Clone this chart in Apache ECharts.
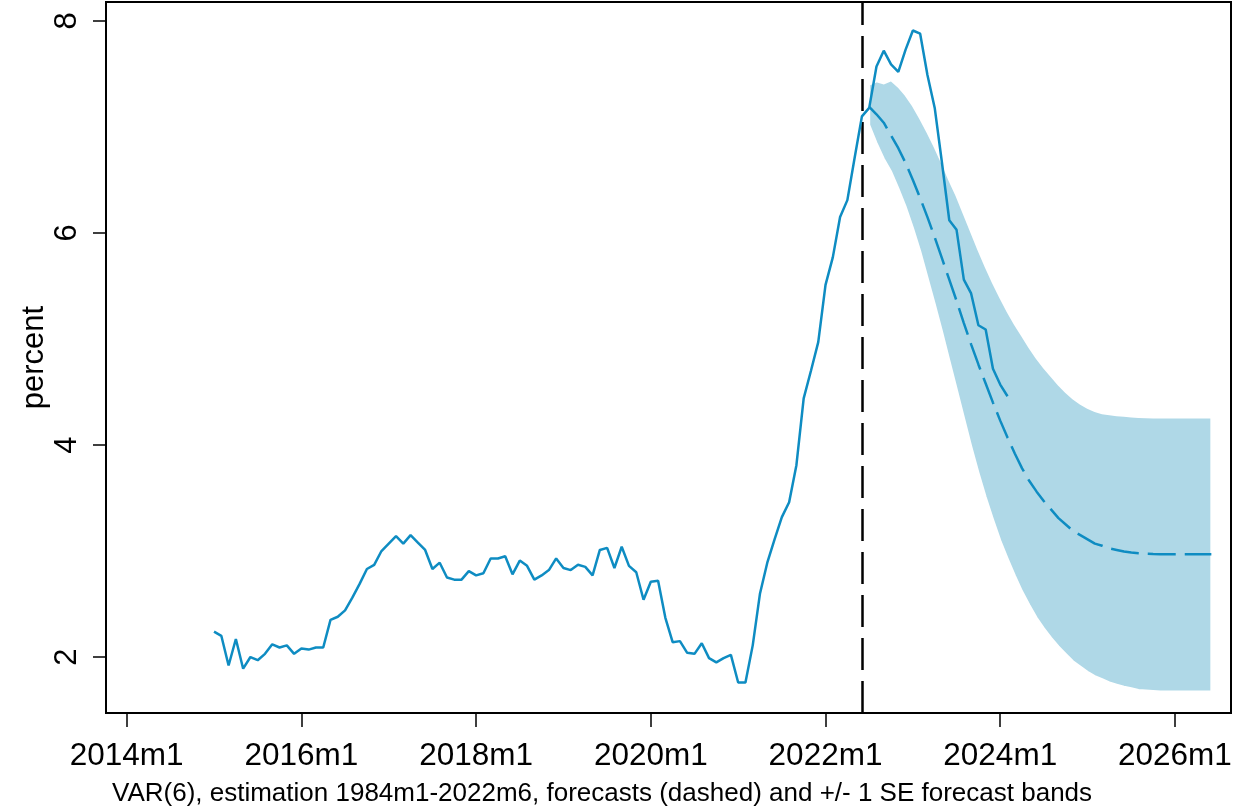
<!DOCTYPE html>
<html>
<head>
<meta charset="utf-8">
<script src="https://cdn.jsdelivr.net/npm/echarts@6/dist/echarts.min.js"></script>
<style>
html,body{margin:0;padding:0;background:#fff;}
#chart{width:1239px;height:806px;}
</style>
</head>
<body>
<div id="chart"></div>
<script>
// Month index: 0 = 2014m1
const xTickValues = [0, 24, 48, 72, 96, 120, 144];
const xTickLabels = ['2014m1', '2016m1', '2018m1', '2020m1', '2022m1', '2024m1', '2026m1'];
const yTickValues = [2, 4, 6, 8];
const yTickLabels = ['2', '4', '6', '8'];

const actualStart = 12;   // 2015m1
const actualValues = [
  2.24, 2.20, 1.92, 2.17, 1.89, 2.00, 1.97, 2.03, 2.12, 2.09, 2.11, 2.03,
  2.08, 2.07, 2.09, 2.09, 2.35, 2.38, 2.44, 2.56, 2.69, 2.83, 2.87, 3.00,
  3.07, 3.14, 3.07, 3.15, 3.08, 3.01, 2.83, 2.89, 2.75, 2.73, 2.73, 2.81,
  2.77, 2.79, 2.93, 2.93, 2.95, 2.78, 2.91, 2.86, 2.73, 2.77, 2.82, 2.93,
  2.84, 2.82, 2.87, 2.85, 2.77, 3.01, 3.03, 2.84, 3.04, 2.86, 2.80, 2.54,
  2.71, 2.72, 2.37, 2.14, 2.15, 2.04, 2.03, 2.13, 1.99, 1.95, 1.99, 2.02,
  1.76, 1.76, 2.11, 2.60, 2.89, 3.11, 3.32, 3.46, 3.81, 4.44, 4.70, 4.97,
  5.51, 5.77, 6.15, 6.31, 6.71, 7.10, 7.18, 7.57, 7.72, 7.59, 7.52, 7.73,
  7.91, 7.88, 7.49, 7.18, 6.66, 6.12, 6.03, 5.56, 5.43, 5.13, 5.09, 4.72,
  4.57, 4.46
];

const forecastStart = 102; // 2022m7
const forecastMean = [
  7.19, 7.12, 7.04, 6.92, 6.80, 6.66, 6.50, 6.33, 6.15, 5.96, 5.76, 5.56,
  5.36, 5.15, 4.95, 4.76, 4.58, 4.40, 4.23, 4.07, 3.92, 3.78, 3.66, 3.56,
  3.47, 3.39, 3.31, 3.25, 3.19, 3.15, 3.11, 3.07, 3.05, 3.025, 3.01, 2.995,
  2.985, 2.98, 2.975, 2.972, 2.97, 2.97, 2.97, 2.97, 2.97, 2.97, 2.97, 2.97
];
const forecastUpper = [
  7.40, 7.43, 7.41, 7.44, 7.38, 7.30, 7.20, 7.08, 6.95, 6.81, 6.66, 6.50,
  6.35, 6.18, 6.01, 5.84, 5.68, 5.53, 5.39, 5.26, 5.14, 5.03, 4.92, 4.82,
  4.73, 4.65, 4.57, 4.50, 4.44, 4.39, 4.35, 4.32, 4.30, 4.29, 4.28, 4.275,
  4.27, 4.265, 4.262, 4.26, 4.26, 4.26, 4.26, 4.26, 4.26, 4.26, 4.26, 4.26
];
const forecastLower = [
  7.02, 6.85, 6.70, 6.58, 6.42, 6.25, 6.05, 5.83, 5.58, 5.33, 5.07, 4.80,
  4.53, 4.26, 3.99, 3.74, 3.51, 3.30, 3.10, 2.93, 2.77, 2.62, 2.49, 2.37,
  2.27, 2.18, 2.10, 2.03, 1.96, 1.91, 1.86, 1.82, 1.79, 1.76, 1.74, 1.72,
  1.705, 1.69, 1.685, 1.68, 1.675, 1.675, 1.675, 1.675, 1.675, 1.675, 1.675, 1.675
];
const estimationEnd = 101; // 2022m6
const captionText = 'VAR(6), estimation 1984m1-2022m6, forecasts (dashed) and +/- 1 SE forecast bands';
const yAxisName = 'percent';

const lineColor = '#0e8cc2';
const bandColor = '#afd8e7';
const FONT = "'Liberation Sans', Arial, sans-serif";

const actualData = actualValues.map((v, i) => [actualStart + i, v]);
const meanData = forecastMean.map((v, i) => [forecastStart + i, v]);
const bandData = forecastUpper.map((v, i) => [forecastStart + i, forecastLower[i], v]);

function renderBand(params, api) {
  if (params.dataIndex !== 0) return null;
  const upperPts = bandData.map(d => api.coord([d[0], d[2]]));
  const lowerPts = bandData.map(d => api.coord([d[0], d[1]])).reverse();
  return {
    type: 'polygon',
    shape: {points: upperPts.concat(lowerPts)},
    style: {fill: bandColor, stroke: '#fff', lineWidth: 2}
  };
}

const chart = echarts.init(document.getElementById('chart'), null, {renderer: 'canvas'});
chart.setOption({
  backgroundColor: '#fff',
  animation: false,
  grid: {
    left: 106, right: 8, top: 2, bottom: 93,
    show: true, borderColor: '#000', borderWidth: 2, backgroundColor: 'transparent'
  },
  xAxis: {
    type: 'value', min: -2.84, max: 151.7,
    splitLine: {show: false},
    axisLine: {show: false, onZero: false},
    axisTick: {show: true, length: 14, lineStyle: {color: '#000', width: 1.5}, customValues: xTickValues},
    axisLabel: {
      customValues: xTickValues, margin: 27,
      color: '#000', fontSize: 31.5, fontFamily: FONT,
      formatter: v => xTickLabels[xTickValues.indexOf(v)] || ''
    }
  },
  yAxis: {
    type: 'value', min: 1.472, max: 8.179,
    name: yAxisName, nameLocation: 'middle', nameGap: 56, nameRotate: 90,
    nameMoveOverlap: false,
    nameTextStyle: {color: '#000', fontSize: 31, fontFamily: FONT},
    splitLine: {show: false},
    axisLine: {show: false, onZero: false},
    axisTick: {show: true, length: 13, lineStyle: {color: '#000', width: 1.5}, customValues: yTickValues},
    axisLabel: {
      customValues: yTickValues, rotate: 90, margin: 23,
      color: '#000', fontSize: 31, fontFamily: FONT,
      formatter: v => yTickLabels[yTickValues.indexOf(v)] || ''
    }
  },
  graphic: [{
    type: 'text', left: 112, top: 781,
    style: {text: captionText, fill: '#000', font: '26px ' + FONT}
  }],
  series: [
    {
      name: 'band', type: 'custom', data: bandData, renderItem: renderBand,
      encode: {x: 0, y: [1, 2]}, z: 2, silent: true
    },
    {
      name: 'forecast', type: 'line', data: meanData, symbol: 'none',
      lineStyle: {color: lineColor, width: 2.5, type: [28, 9]}, z: 4
    },
    {
      name: 'actual', type: 'line', data: actualData, symbol: 'none',
      lineStyle: {color: lineColor, width: 2.5}, z: 5,
      markLine: {
        silent: true, symbol: 'none', label: {show: false},
        lineStyle: {color: '#000', width: 2.5, type: [32, 11]},
        data: [{xAxis: estimationEnd}]
      }
    }
  ]
});
</script>
</body>
</html>
